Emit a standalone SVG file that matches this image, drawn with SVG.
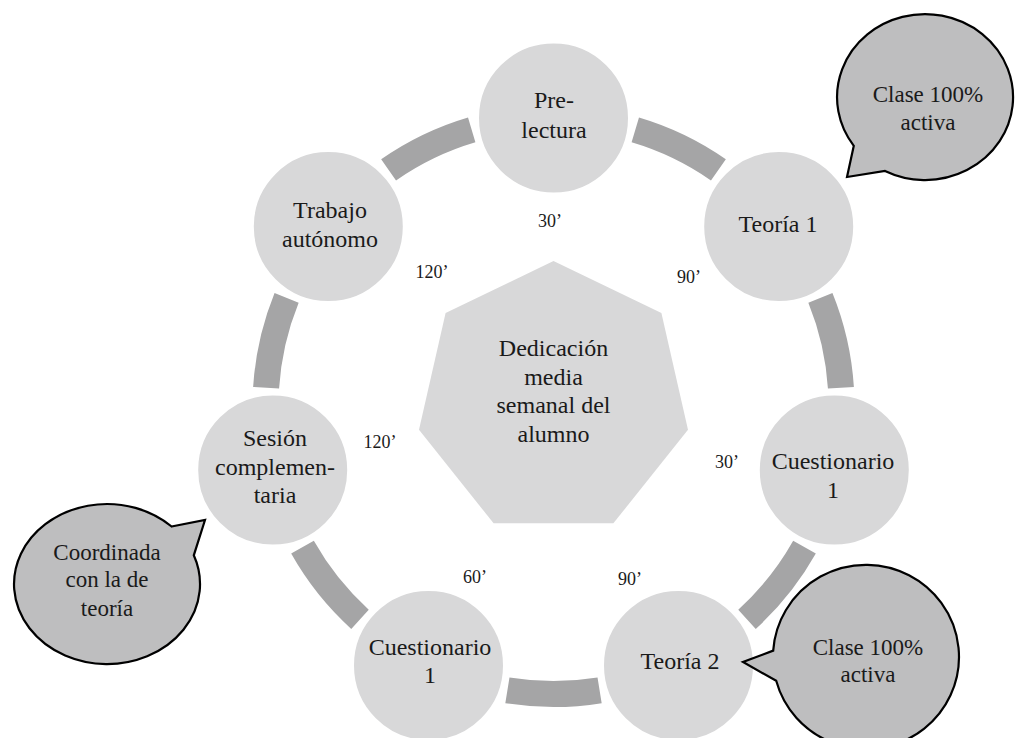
<svg xmlns="http://www.w3.org/2000/svg" width="1015" height="738" viewBox="0 0 1015 738">
<defs>
<style>
.band{fill:none;stroke:#a5a5a6;stroke-width:26;stroke-linecap:butt}
.node{fill:#d8d8d9;stroke:#ffffff;stroke-width:3}
.hept{fill:#d8d8d9}
.bubble{fill:#bebebf;stroke:#000000;stroke-width:2.2;stroke-linejoin:miter}
.t{font-family:"Liberation Serif","Times New Roman",serif;font-size:24px;fill:#1a1a1a;text-anchor:middle}
.tb{font-family:"Liberation Serif","Times New Roman",serif;font-size:23px;fill:#1a1a1a;text-anchor:middle}
.n{font-family:"Liberation Serif","Times New Roman",serif;font-size:18px;fill:#1a1a1a;text-anchor:middle}
</style>
</defs>
<rect width="1015" height="738" fill="#ffffff"/>
<g id="connectors">
<path class="band" d="M635.3,129.9 A288,288 0 0 1 718.4,169.9"/>
<path class="band" d="M820.4,297.8 A288,288 0 0 1 840.9,387.7"/>
<path class="band" d="M804.5,547.2 A288,288 0 0 1 747.0,619.3"/>
<path class="band" d="M599.6,690.3 A288,288 0 0 1 507.4,690.3"/>
<path class="band" d="M360.0,619.3 A288,288 0 0 1 302.5,547.2"/>
<path class="band" d="M266.1,387.7 A288,288 0 0 1 286.6,297.8"/>
<path class="band" d="M388.6,169.9 A288,288 0 0 1 471.7,129.9"/>
</g>
<g id="center">
<polygon class="hept" points="553.5,261 661.4,313 688,429.7 613.4,523.3 493.6,523.3 419,429.7 445.6,313"/>
<text class="t" x="553.5" y="356">Dedicación</text>
<text class="t" x="553.5" y="385">media</text>
<text class="t" x="553.5" y="413">semanal del</text>
<text class="t" x="553.5" y="442">alumno</text>
</g>
<g id="n-prelectura">
<circle class="node" cx="553.5" cy="118" r="76"/>
<text class="t" x="554" y="108">Pre-</text>
<text class="t" x="554" y="138">lectura</text>
</g>
<g id="n-teoria1">
<circle class="node" cx="778.7" cy="226.6" r="76"/>
<text class="t" x="778" y="232">Teoría 1</text>
</g>
<g id="n-cuest-right">
<circle class="node" cx="834.3" cy="470" r="76"/>
<text class="t" x="833" y="469">Cuestionario</text>
<text class="t" x="833" y="498">1</text>
</g>
<g id="n-teoria2">
<circle class="node" cx="678.5" cy="665.5" r="76"/>
<text class="t" x="680" y="669">Teoría 2</text>
</g>
<g id="n-cuest-left">
<circle class="node" cx="428.5" cy="665.5" r="76"/>
<text class="t" x="430" y="655">Cuestionario</text>
<text class="t" x="430" y="683">1</text>
</g>
<g id="n-sesion">
<circle class="node" cx="272.7" cy="470" r="76"/>
<text class="t" x="275" y="446">Sesión</text>
<text class="t" x="275" y="475">complemen-</text>
<text class="t" x="275" y="503">taria</text>
</g>
<g id="n-trabajo">
<circle class="node" cx="328.3" cy="226.6" r="76"/>
<text class="t" x="330" y="218">Trabajo</text>
<text class="t" x="330" y="247">autónomo</text>
</g>
<g id="labels">
<text class="n" x="550" y="227">30’</text>
<text class="n" x="689" y="283">90’</text>
<text class="n" x="727" y="468">30’</text>
<text class="n" x="630" y="585">90’</text>
<text class="n" x="475" y="583">60’</text>
<text class="n" x="380" y="448">120’</text>
<text class="n" x="432" y="278">120’</text>
</g>
<g id="bubble-top">
<path class="bubble" d="M853.8,145.8 L847,177 L885,171 A88,83 0 1 0 853.8,145.8 Z"/>
<text class="tb" x="928" y="102">Clase 100%</text>
<text class="tb" x="928" y="130">activa</text>
</g>
<g id="bubble-bottom">
<path class="bubble" d="M776.2,680.8 L743,662 L773.2,650.6 A93,92 0 1 1 776.2,680.8 Z"/>
<text class="tb" x="868" y="655">Clase 100%</text>
<text class="tb" x="868" y="682">activa</text>
</g>
<g id="bubble-left">
<path class="bubble" d="M171.6,526.5 L205,520 L193.8,555.3 A93,80 0 1 1 171.6,526.5 Z"/>
<text class="tb" x="107" y="560">Coordinada</text>
<text class="tb" x="107" y="587">con la de</text>
<text class="tb" x="107" y="616">teoría</text>
</g>
</svg>
